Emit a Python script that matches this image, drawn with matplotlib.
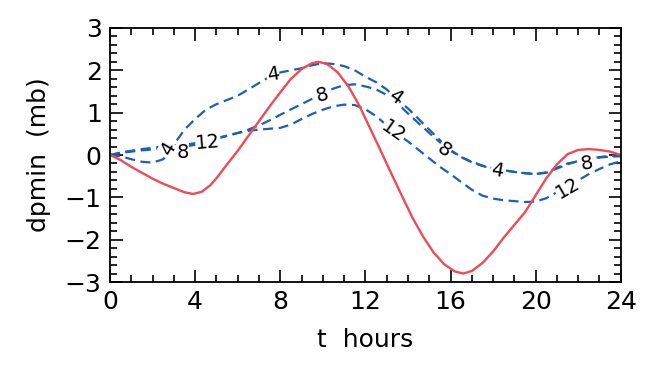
import matplotlib
matplotlib.use("Agg")
import matplotlib.pyplot as plt
from matplotlib.ticker import MultipleLocator

# red curve (observed)
t_red = [0, 0.5, 1.0, 1.5, 2.0, 2.5, 3.0, 3.5, 3.9, 4.3, 4.7, 5.0, 5.5, 6.0, 6.5,
         7.0, 7.5, 8.0, 8.5, 9.0, 9.5, 9.8, 10.2, 10.7, 11.2, 11.7, 12.2, 12.7,
         13.2, 13.7, 14.2, 14.7, 15.2, 15.7, 16.2, 16.6, 17.0, 17.5, 18.0, 18.5,
         19.0, 19.5, 20.0, 20.5, 21.0, 21.5, 22.0, 22.5, 23.0, 23.5, 24.0]
p_red = [0, -0.12, -0.28, -0.42, -0.56, -0.68, -0.78, -0.88, -0.92, -0.87, -0.72,
         -0.55, -0.22, 0.1, 0.45, 0.8, 1.15, 1.48, 1.8, 2.03, 2.17, 2.2, 2.15, 1.95,
         1.62, 1.18, 0.65, 0.12, -0.42, -0.95, -1.47, -1.92, -2.3, -2.58, -2.75,
         -2.8, -2.74, -2.55, -2.28, -1.95, -1.65, -1.35, -0.95, -0.55, -0.22, 0.02,
         0.12, 0.14, 0.12, 0.08, 0.0]

t_blue = [0, 0.5, 1.0, 1.5, 2.0, 2.5, 3.0, 3.5, 4.0, 4.5, 5.0, 5.5, 6.0, 6.5, 7.0,
          7.5, 8.0, 8.5, 9.0, 9.5, 10.0, 10.5, 11.0, 11.5, 12.0, 12.5, 13.0, 13.5,
          14.0, 14.5, 15.0, 15.5, 16.0, 16.5, 17.0, 17.5, 18.0, 18.5, 19.0, 19.5,
          20.0, 20.5, 21.0, 21.5, 22.0, 22.5, 23.0, 23.5, 24.0]
p4 = [0, -0.03, -0.1, -0.16, -0.18, -0.1, 0.25, 0.6, 0.85, 1.07, 1.2, 1.3, 1.4,
      1.55, 1.7, 1.85, 1.95, 2.0, 2.05, 2.12, 2.17, 2.15, 2.1, 2.0, 1.85, 1.72,
      1.55, 1.3, 1.1, 0.85, 0.6, 0.35, 0.12, -0.05, -0.17, -0.26, -0.32, -0.36,
      -0.4, -0.43, -0.45, -0.42, -0.32, -0.22, -0.14, -0.1, -0.06, -0.04, -0.03]
p8 = [0, 0.05, 0.08, 0.11, 0.13, 0.16, 0.18, 0.2, 0.24, 0.3, 0.38, 0.45, 0.52,
      0.6, 0.7, 0.82, 0.95, 1.08, 1.2, 1.33, 1.45, 1.57, 1.65, 1.67, 1.62, 1.55,
      1.42, 1.22, 0.98, 0.75, 0.52, 0.3, 0.1, -0.05, -0.16, -0.25, -0.31, -0.36,
      -0.4, -0.43, -0.45, -0.41, -0.3, -0.2, -0.15, -0.1, -0.05, -0.02, 0.0]
p12 = [0, 0.06, 0.1, 0.14, 0.17, 0.2, 0.22, 0.24, 0.28, 0.32, 0.4, 0.46, 0.52,
       0.57, 0.6, 0.62, 0.64, 0.72, 0.85, 0.97, 1.07, 1.15, 1.19, 1.18, 1.08,
       0.92, 0.7, 0.5, 0.32, 0.12, -0.08, -0.28, -0.45, -0.64, -0.82, -0.96,
       -1.03, -1.07, -1.09, -1.11, -1.1, -1.02, -0.88, -0.75, -0.6, -0.45, -0.33,
       -0.22, -0.15]

# inline labels: (text, t, value, rotation)
labels = [
    ("4", 2.75, 0.15, 60), ("4", 7.65, 1.9, 10), ("4", 13.4, 1.38, -35),
    ("4", 18.2, -0.36, -10),
    ("8", 3.4, 0.06, 0), ("8", 9.95, 1.42, 15), ("8", 15.7, 0.12, -35),
    ("8", 22.4, -0.2, 10),
    ("12", 4.6, 0.3, 5), ("12", 13.3, 0.55, -35), ("12", 21.5, -0.78, 30),
]

red = "#ee4b57"
blue = "#1f5fae"

fig = plt.figure(figsize=(6.59, 3.66), dpi=100)
ax = fig.add_axes([0.167, 0.2295, 0.775, 0.694])

for p in (p4, p8, p12):
    ax.plot(t_blue, p, color=blue, lw=1.6, linestyle=(0, (4.5, 2.5)))
ax.plot(t_red, p_red, color=red, lw=1.7)

for s, x, y, rot in labels:
    ax.text(x, y, s, fontsize=14, rotation=rot, ha="center", va="center",
            rotation_mode="anchor",
            bbox=dict(facecolor="white", edgecolor="none", pad=0.3))

ax.set_xlim(0, 24)
ax.set_ylim(-3, 3)
ax.xaxis.set_major_locator(MultipleLocator(4))
ax.xaxis.set_minor_locator(MultipleLocator(1))
ax.yaxis.set_major_locator(MultipleLocator(1))
ax.yaxis.set_minor_locator(MultipleLocator(0.2))
ax.tick_params(which="both", direction="in", top=True, right=True,
               labelsize=18, width=1.2)
ax.tick_params(which="major", length=9, pad=6)
ax.tick_params(which="minor", length=5)
for sp in ax.spines.values():
    sp.set_linewidth(1.3)

ax.set_xlabel("t  hours", fontsize=18, labelpad=10)
ax.set_ylabel("dpmin  (mb)", fontsize=18, labelpad=10)

fig.savefig("out.png", dpi=100)
